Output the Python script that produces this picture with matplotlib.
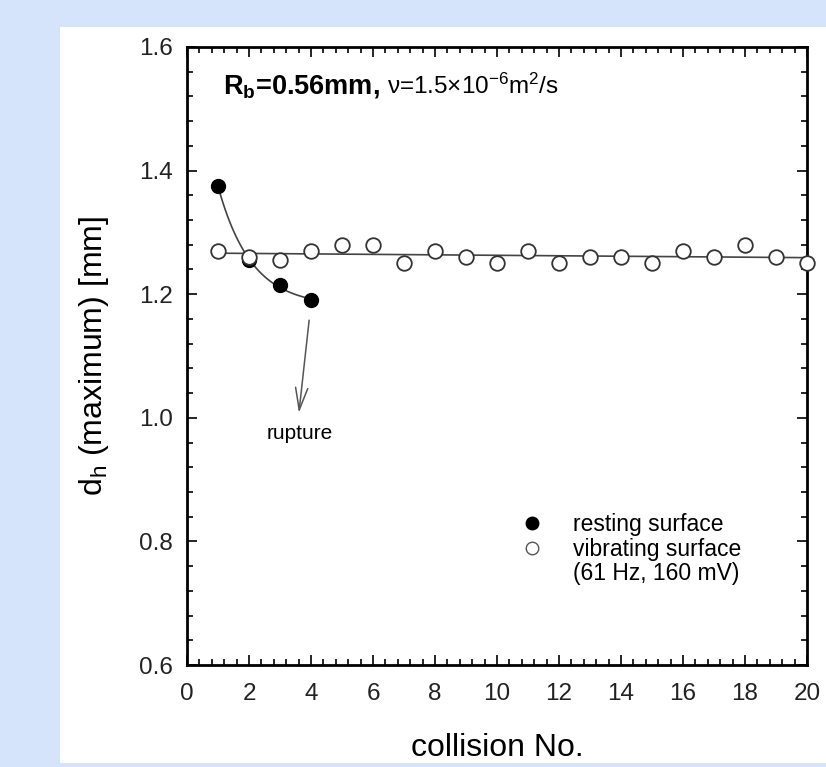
import numpy as np
import matplotlib.pyplot as plt
from matplotlib.lines import Line2D
from matplotlib.patches import Rectangle
from matplotlib.ticker import MultipleLocator

plt.rcParams['font.family'] = ['Liberation Sans', 'DejaVu Sans']
plt.rcParams['mathtext.fontset'] = 'custom'
plt.rcParams['mathtext.rm'] = 'Liberation Sans'
plt.rcParams['mathtext.it'] = 'Liberation Sans:italic'
plt.rcParams['mathtext.bf'] = 'Liberation Sans:bold'

# datos
rest_n = [1, 2, 3, 4]
rest_dh = [1.375, 1.255, 1.215, 1.19]

vib_n = list(range(1, 21))
vib_dh = [1.27, 1.26, 1.255, 1.27, 1.28, 1.28, 1.25, 1.27, 1.26, 1.25,
          1.27, 1.25, 1.26, 1.26, 1.25, 1.27, 1.26, 1.28, 1.26, 1.25]

# ajuste exponencial y = a + b*exp(-c x) para la superficie en reposo
xr = np.array(rest_n, dtype=float)
yr = np.array(rest_dh)
best = None
for c in np.linspace(0.2, 4, 381):
    A = np.column_stack([np.ones_like(xr), np.exp(-c * xr)])
    coef, res, *_ = np.linalg.lstsq(A, yr, rcond=None)
    err = np.sum((A @ coef - yr) ** 2)
    if best is None or err < best[0]:
        best = (err, c, coef)
_, c_fit, (a_fit, b_fit) = best
x_curve = np.linspace(1, 4, 100)
y_curve = a_fit + b_fit * np.exp(-c_fit * x_curve)

# ajuste lineal para la superficie vibrante
p = np.polyfit(vib_n, vib_dh, 1)
x_line = np.array([1, 20])
y_line = np.polyval(p, x_line)

fig = plt.figure(figsize=(8.26, 7.67), dpi=100, facecolor='#d6e4fb')
fig.add_artist(Rectangle((60 / 826, 4 / 767), 1 - 60 / 826, (763 - 27) / 767,
                         transform=fig.transFigure, facecolor='white',
                         edgecolor='none', zorder=-10))
ax = fig.add_axes([187 / 826, (767 - 665) / 767, (807 - 187) / 826, (665 - 47) / 767])
ax.set_facecolor('white')

ax.plot(x_curve, y_curve, color='#444444', lw=1.2, zorder=2)
ax.plot(x_line, y_line, color='#444444', lw=1.2, zorder=2)
ax.plot(rest_n, rest_dh, 'o', color='black', ms=10, zorder=3)
ax.plot(vib_n, vib_dh, 'o', mfc='white', mec='#333333', mew=1.3, ms=10.5,
        zorder=4, clip_on=False)

ax.annotate('', xy=(3.61, 1.008), xytext=(3.94, 1.158),
            arrowprops=dict(arrowstyle='->,head_length=0.8,head_width=0.22',
                            mutation_scale=20, color='#555555', lw=1.1,
                            shrinkA=0, shrinkB=0))
ax.text(3.65, 0.975, 'rupture', ha='center', va='center', fontsize=15)

ax.text(1.16, 1.524, r'$\mathbf{R_b}$=0.56mm,', fontsize=19.5, fontweight='bold',
        ha='left', va='baseline')
ax.text(6.45, 1.524, 'ν=1.5×10$^{-6}$m$^2$/s', fontsize=17.5,
        ha='left', va='baseline')

ax.set_xlim(0, 20)
ax.set_ylim(0.6, 1.6)
ax.xaxis.set_major_locator(MultipleLocator(2))
ax.xaxis.set_minor_locator(MultipleLocator(0.4))
ax.yaxis.set_major_locator(MultipleLocator(0.2))
ax.yaxis.set_minor_locator(MultipleLocator(0.04))
ax.yaxis.set_major_formatter(plt.FormatStrFormatter('%.1f'))
ax.tick_params(which='both', direction='in', top=True, right=True,
               labelsize=17.5, width=1.2, labelcolor='#222222')
ax.tick_params(which='major', length=7, pad=10)
ax.tick_params(axis='x', which='major', pad=13)
ax.tick_params(which='minor', length=4)
for s in ax.spines.values():
    s.set_linewidth(2)

ax.set_xlabel('collision No.', fontsize=23, labelpad=20)
ax.set_ylabel(r'd$_\mathrm{h}$ (maximum) [mm]', fontsize=23, labelpad=20)

handles = [Line2D([], [], ls='none', marker='o', color='black', ms=9),
           Line2D([], [], ls='none', marker='o', mfc='white', mec='#555555', ms=9),
           Line2D([], [], ls='none')]
labels = ['resting surface', 'vibrating surface', '(61 Hz, 160 mV)']
ax.legend(handles, labels, frameon=False, fontsize=16.5, loc='upper left',
          bbox_to_anchor=(0.519, 0.265), handlelength=1.0, handletextpad=1.3,
          labelspacing=0.08, borderpad=0)

fig.savefig('out.png', dpi=100, facecolor=fig.get_facecolor())
